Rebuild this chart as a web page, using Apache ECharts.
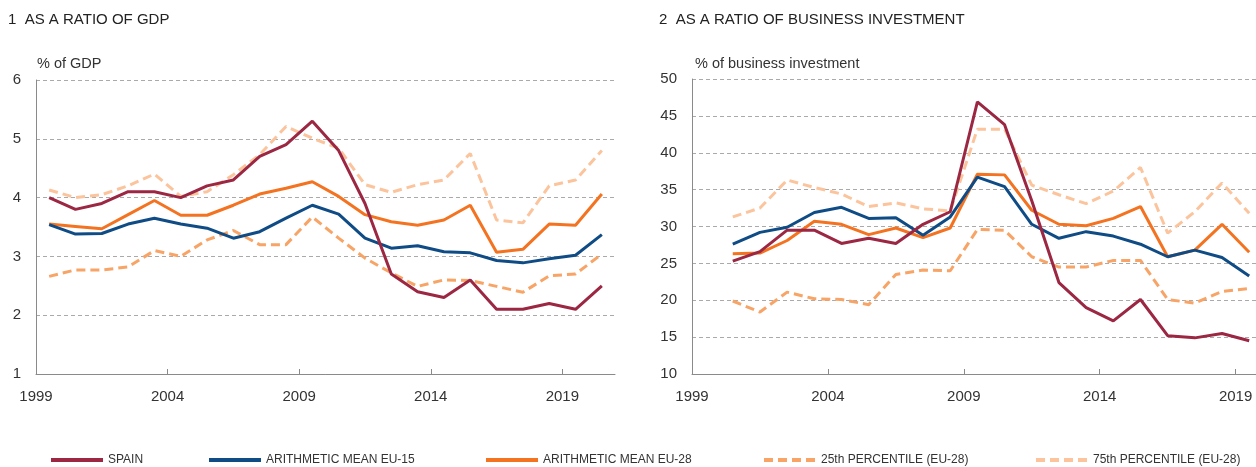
<!DOCTYPE html>
<html><head><meta charset="utf-8">
<script src="https://cdn.jsdelivr.net/npm/echarts@6/dist/echarts.min.js"></script>
<style>html,body{margin:0;padding:0;background:#fff}#c{width:1256px;height:467px}</style>
</head><body><div id="c"></div>
<script>
const yearsGDP = [1999,2000,2001,2002,2003,2004,2005,2006,2007,2008,2009,2010,2011,2012,2013,2014,2015,2016,2017,2018,2019,2020];
const spainGDP = [4.0,3.8,3.9,4.1,4.1,4.0,4.2,4.3,4.7,4.9,5.3,4.8,3.9,2.7,2.4,2.3,2.6,2.1,2.1,2.2,2.1,2.5];
const eu15GDP  = [3.54,3.38,3.39,3.55,3.65,3.55,3.48,3.31,3.42,3.65,3.87,3.72,3.31,3.14,3.18,3.08,3.06,2.93,2.89,2.96,3.02,3.37];
const eu28GDP  = [3.55,3.51,3.47,3.71,3.95,3.70,3.70,3.87,4.06,4.16,4.27,4.02,3.71,3.59,3.53,3.62,3.87,3.07,3.12,3.55,3.53,4.06];
const p25GDP   = [2.66,2.77,2.77,2.82,3.10,3.00,3.28,3.44,3.20,3.20,3.67,3.31,2.97,2.72,2.49,2.60,2.59,2.49,2.39,2.67,2.70,3.04];
const p75GDP   = [4.13,4.00,4.05,4.20,4.40,4.02,4.10,4.39,4.73,5.21,5.01,4.84,4.22,4.09,4.22,4.30,4.75,3.62,3.57,4.20,4.30,4.80];

const yearsBI = [2000,2001,2002,2003,2004,2005,2006,2007,2008,2009,2010,2011,2012,2013,2014,2015,2016,2017,2018,2019];
const spainBI = [25.3,26.6,29.5,29.5,27.7,28.4,27.7,30.3,32.0,46.9,43.8,33.5,22.4,19.0,17.2,20.1,15.2,14.9,15.5,14.5];
const eu15BI  = [27.6,29.2,29.9,31.9,32.6,31.1,31.2,28.8,31.3,36.7,35.4,30.3,28.4,29.3,28.7,27.6,25.9,26.8,25.8,23.3];
const eu28BI  = [26.3,26.4,28.1,30.7,30.3,28.9,29.8,28.5,29.8,37.1,37.0,32.2,30.3,30.1,31.1,32.7,25.9,26.8,30.3,26.5];
const p25BI   = [19.9,18.4,21.1,20.2,20.1,19.4,23.5,24.1,24.0,29.6,29.5,25.9,24.5,24.5,25.4,25.4,20.1,19.6,21.2,21.6];
const p75BI   = [31.3,32.5,36.3,35.3,34.4,32.7,33.2,32.4,32.1,43.2,43.2,35.6,34.3,33.1,34.8,38.0,29.1,32.0,35.9,31.8];

const xTickLabels = [1999,2004,2009,2014,2019];
const names = ['SPAIN','ARITHMETIC MEAN EU-15','ARITHMETIC MEAN EU-28','25th PERCENTILE (EU-28)','75th PERCENTILE (EU-28)'];
const colors = ['#9b2743','#0f4c86','#f47321','#f7a466','#fbc49c'];
const dashed = [false,false,false,true,true];

const font = "'Liberation Sans', Arial, sans-serif";
const chart = echarts.init(document.getElementById('c'));

function pts(years, vals){ return years.map((y,i)=>[y+0.5, vals[i]]); }

function xAxis(gi, max){
  return {type:'value', gridIndex:gi, min:1999, max:max,
    axisLine:{show:true, lineStyle:{color:'#8a8a8a', width:1}},
    axisTick:{show:true, inside:true, length:5, customValues:xTickLabels.slice(1), lineStyle:{color:'#8a8a8a'}},
    axisLabel:{customValues:xTickLabels, formatter:(v)=>String(v), color:'#333', fontSize:15, fontFamily:font, margin:15},
    splitLine:{show:false}};
}
function yAxis(gi, min, max, interval){
  return {type:'value', gridIndex:gi, min:min, max:max, interval:interval,
    axisLine:{show:true, lineStyle:{color:'#8a8a8a', width:1}},
    axisTick:{show:false},
    axisLabel:{color:'#333', fontSize:15, fontFamily:font, margin:15},
    splitLine:{show:true, lineStyle:{color:'#aaaaaa', type:[4,3], width:1}}};
}

const seriesData = [
  [spainGDP, eu15GDP, eu28GDP, p25GDP, p75GDP],
  [spainBI, eu15BI, eu28BI, p25BI, p75BI]
];
const yrs = [yearsGDP, yearsBI];
const series = [];
const order = [4,3,2,1,0];
for (let g=0; g<2; g++){
  for (const k of order){
    series.push({
      name:names[k], type:'line', xAxisIndex:g, yAxisIndex:g,
      data:pts(yrs[g], seriesData[g][k]), symbol:'none', smooth:false,
      z: 10-k,
      lineStyle:{color:colors[k], width:3, type: dashed[k] ? [9,5] : 'solid'},
      itemStyle:{color:colors[k]}
    });
  }
}

const legendLeft = [49,207,484,762,1034];
const legends = names.map((n,i)=>({
  data:[n], left:legendLeft[i], top:454, itemWidth:52, itemHeight:14, itemGap:5, padding:0,
  itemStyle:{opacity:0},
  lineStyle:{width:4},
  textStyle:{color:'#333', fontSize:12, fontFamily:font},
  selectedMode:false
}));

chart.setOption({
  animation:false,
  title:[
    {text:'1  AS A RATIO OF GDP', left:8, top:12, padding:0, textStyle:{fontSize:15, fontWeight:'normal', color:'#222', fontFamily:font}},
    {text:'2  AS A RATIO OF BUSINESS INVESTMENT', left:659, top:12, padding:0, textStyle:{fontSize:15, fontWeight:'normal', color:'#222', fontFamily:font}},
    {text:'% of GDP', left:37, top:56, padding:0, textStyle:{fontSize:14.5, fontWeight:'normal', color:'#333', fontFamily:font}},
    {text:'% of business investment', left:695, top:56, padding:0, textStyle:{fontSize:14.5, fontWeight:'normal', color:'#333', fontFamily:font}}
  ],
  legend: legends,
  grid:[
    {left:36, right:641, top:80, bottom:93},
    {left:692, right:0, top:79, bottom:93}
  ],
  xAxis:[xAxis(0,2021), xAxis(1,2019.75)],
  yAxis:[yAxis(0,1,6,1), yAxis(1,10,50,5)],
  series:series
});
</script></body></html>
